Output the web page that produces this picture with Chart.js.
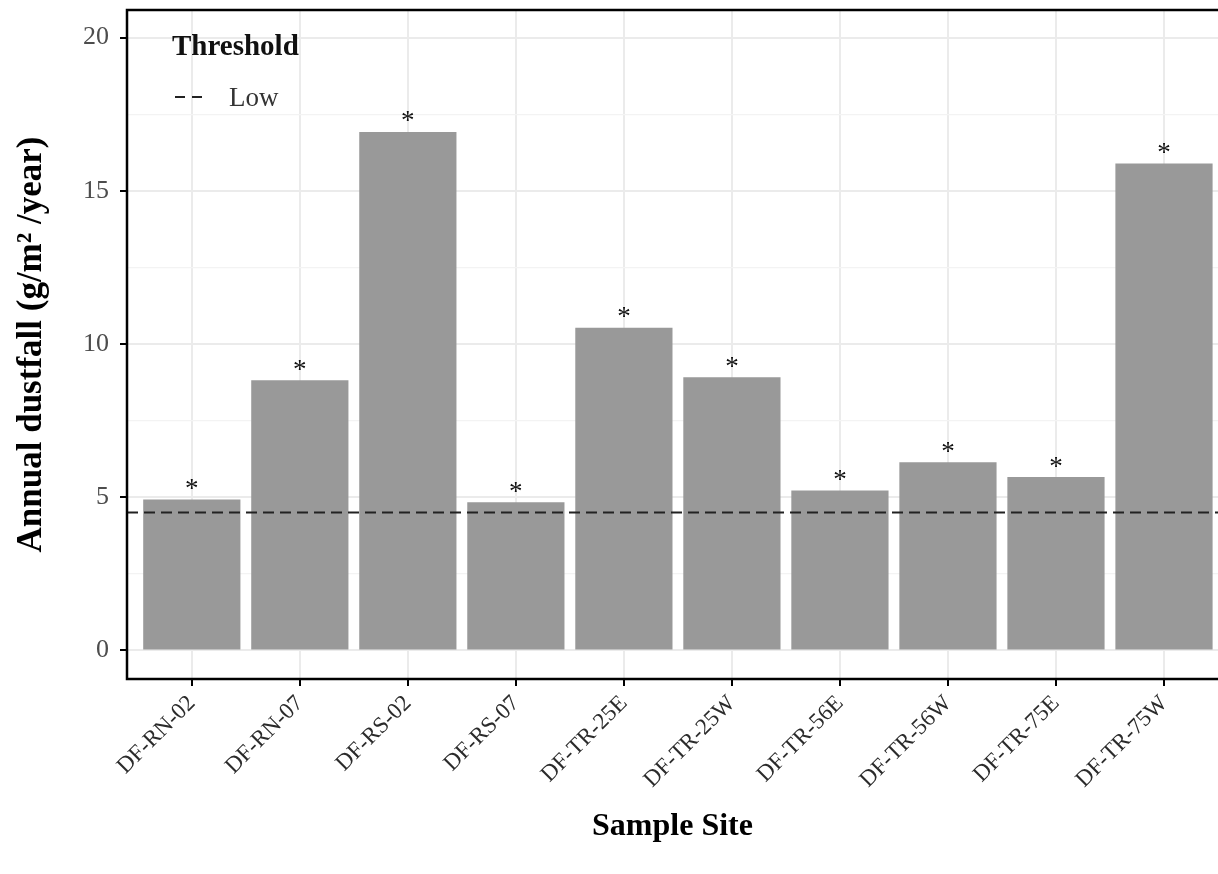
<!DOCTYPE html>
<html>
<head>
<meta charset="utf-8">
<script src="https://cdn.jsdelivr.net/npm/chart.js@4/dist/chart.umd.min.js"></script>
<style>
  html, body { margin: 0; padding: 0; background: #fff; overflow: hidden; }
  canvas { display: block; }
</style>
</head>
<body>
<canvas id="dustfall" width="1218" height="874"></canvas>
<script>
// annual dustfall per sampling site
const sites = ['DF-RN-02', 'DF-RN-07', 'DF-RS-02', 'DF-RS-07', 'DF-TR-25E',
               'DF-TR-25W', 'DF-TR-56E', 'DF-TR-56W', 'DF-TR-75E', 'DF-TR-75W'];
const dustfall = [4.93, 8.82, 16.92, 4.84, 10.53, 8.92, 5.22, 6.14, 5.66, 15.89];
// significance marker printed above each bar
const markers = ['*', '*', '*', '*', '*', '*', '*', '*', '*', '*'];

const thresholdTitle = 'Threshold';
const thresholdName = 'Low';
const thresholdValue = 4.5;

const yMajorTicks = [0, 5, 10, 15, 20];
const yMinorTicks = [2.5, 7.5, 12.5, 17.5];

const SERIF = '"Liberation Serif", "DejaVu Serif", serif';
const X_MIN = -0.6, X_MAX = 9.5;

const isMajor = v => yMajorTicks.includes(v);

// stars, panel frame and the in-panel threshold key
const overlay = {
    id: 'overlay',
    afterDraw(chart) {
        const ctx = chart.ctx;
        const area = chart.chartArea;

        ctx.save();
        ctx.beginPath();
        ctx.rect(area.left, area.top, area.right - area.left, area.bottom - area.top);
        ctx.clip();

        ctx.fillStyle = '#111';
        ctx.font = '27px ' + SERIF;
        ctx.textAlign = 'center';
        ctx.textBaseline = 'alphabetic';
        const m = ctx.measureText('*');
        const shift = (m.actualBoundingBoxAscent - m.actualBoundingBoxDescent) / 2;
        chart.getDatasetMeta(0).data.forEach((bar, i) => {
            ctx.fillText(markers[i], bar.x, bar.y - 15 + shift);
        });

        // threshold key
        ctx.textAlign = 'left';
        ctx.fillStyle = '#111';
        ctx.font = 'bold 29px ' + SERIF;
        ctx.fillText(thresholdTitle, area.left + 45, 55);

        const line = chart.data.datasets[1];
        ctx.strokeStyle = line.borderColor;
        ctx.lineWidth = line.borderWidth;
        ctx.setLineDash([10, 7]);
        ctx.beginPath();
        ctx.moveTo(area.left + 48, 97);
        ctx.lineTo(area.left + 76, 97);
        ctx.stroke();
        ctx.setLineDash([]);

        ctx.fillStyle = '#333';
        ctx.font = '27px ' + SERIF;
        ctx.fillText(line.label, area.left + 102, 106);
        ctx.restore();

        ctx.save();
        ctx.strokeStyle = '#000';
        ctx.lineWidth = 2.5;
        ctx.strokeRect(area.left, area.top, area.right - area.left + 4, area.bottom - area.top);
        ctx.restore();
    }
};

new Chart(document.getElementById('dustfall'), {
    type: 'bar',
    data: {
        datasets: [
            {
                type: 'bar',
                label: 'Annual dustfall',
                data: dustfall.map((v, i) => ({ x: i, y: v })),
                backgroundColor: '#999999',
                borderWidth: 0,
                barPercentage: 0.9,
                categoryPercentage: 1.0,
                order: 2
            },
            {
                type: 'line',
                label: thresholdName,
                data: [{ x: X_MIN, y: thresholdValue }, { x: X_MAX, y: thresholdValue }],
                borderColor: '#222',
                borderWidth: 2,
                borderDash: [11, 6],
                pointRadius: 0,
                fill: false,
                order: 1
            }
        ]
    },
    options: {
        responsive: false,
        animation: false,
        layout: { padding: { top: 10, left: 0, right: 0, bottom: 0 } },
        plugins: {
            legend: { display: false },
            tooltip: { enabled: false }
        },
        scales: {
            x: {
                type: 'linear',
                min: X_MIN,
                max: X_MAX,
                offset: false,
                afterBuildTicks: s => { s.ticks = sites.map((_, i) => ({ value: i })); },
                afterFit: s => { s.height = 195; s.paddingLeft = 0; s.paddingRight = 0; },
                border: { display: false },
                grid: {
                    offset: false,
                    color: '#ebebeb',
                    lineWidth: 2,
                    tickColor: '#000',
                    tickWidth: 2,
                    tickLength: 7
                },
                ticks: {
                    autoSkip: false,
                    minRotation: 45,
                    maxRotation: 45,
                    padding: 4,
                    color: '#2b2b2b',
                    font: { family: SERIF, size: 23 },
                    callback: v => sites[v]
                },
                title: {
                    display: true,
                    text: 'Sample Site',
                    color: '#000',
                    font: { family: SERIF, size: 32, weight: 'bold' },
                    padding: { top: 0, bottom: 28 }
                }
            },
            y: {
                type: 'linear',
                min: -0.93,
                max: 20.9,
                afterBuildTicks: s => {
                    s.ticks = yMajorTicks.concat(yMinorTicks).sort((a, b) => a - b).map(v => ({ value: v }));
                },
                afterFit: s => { s.width = 127; s.paddingTop = 0; s.paddingBottom = 0; },
                border: { display: false },
                grid: {
                    color: c => isMajor(c.tick.value) ? '#ebebeb' : '#f3f3f3',
                    lineWidth: c => isMajor(c.tick.value) ? 2 : 1.2,
                    tickColor: c => isMajor(c.tick.value) ? '#000' : 'rgba(0,0,0,0)',
                    tickWidth: 2,
                    tickLength: 7
                },
                ticks: {
                    padding: 11,
                    color: '#4d4d4d',
                    font: { family: SERIF, size: 26 },
                    callback: v => isMajor(v) ? String(v) : ''
                },
                title: {
                    display: true,
                    text: 'Annual dustfall (g/m\u00b2 /year)',
                    color: '#000',
                    font: { family: SERIF, size: 35, weight: 'bold' },
                    padding: { top: 11, bottom: 0 }
                }
            }
        }
    },
    plugins: [overlay]
});
</script>
</body>
</html>
